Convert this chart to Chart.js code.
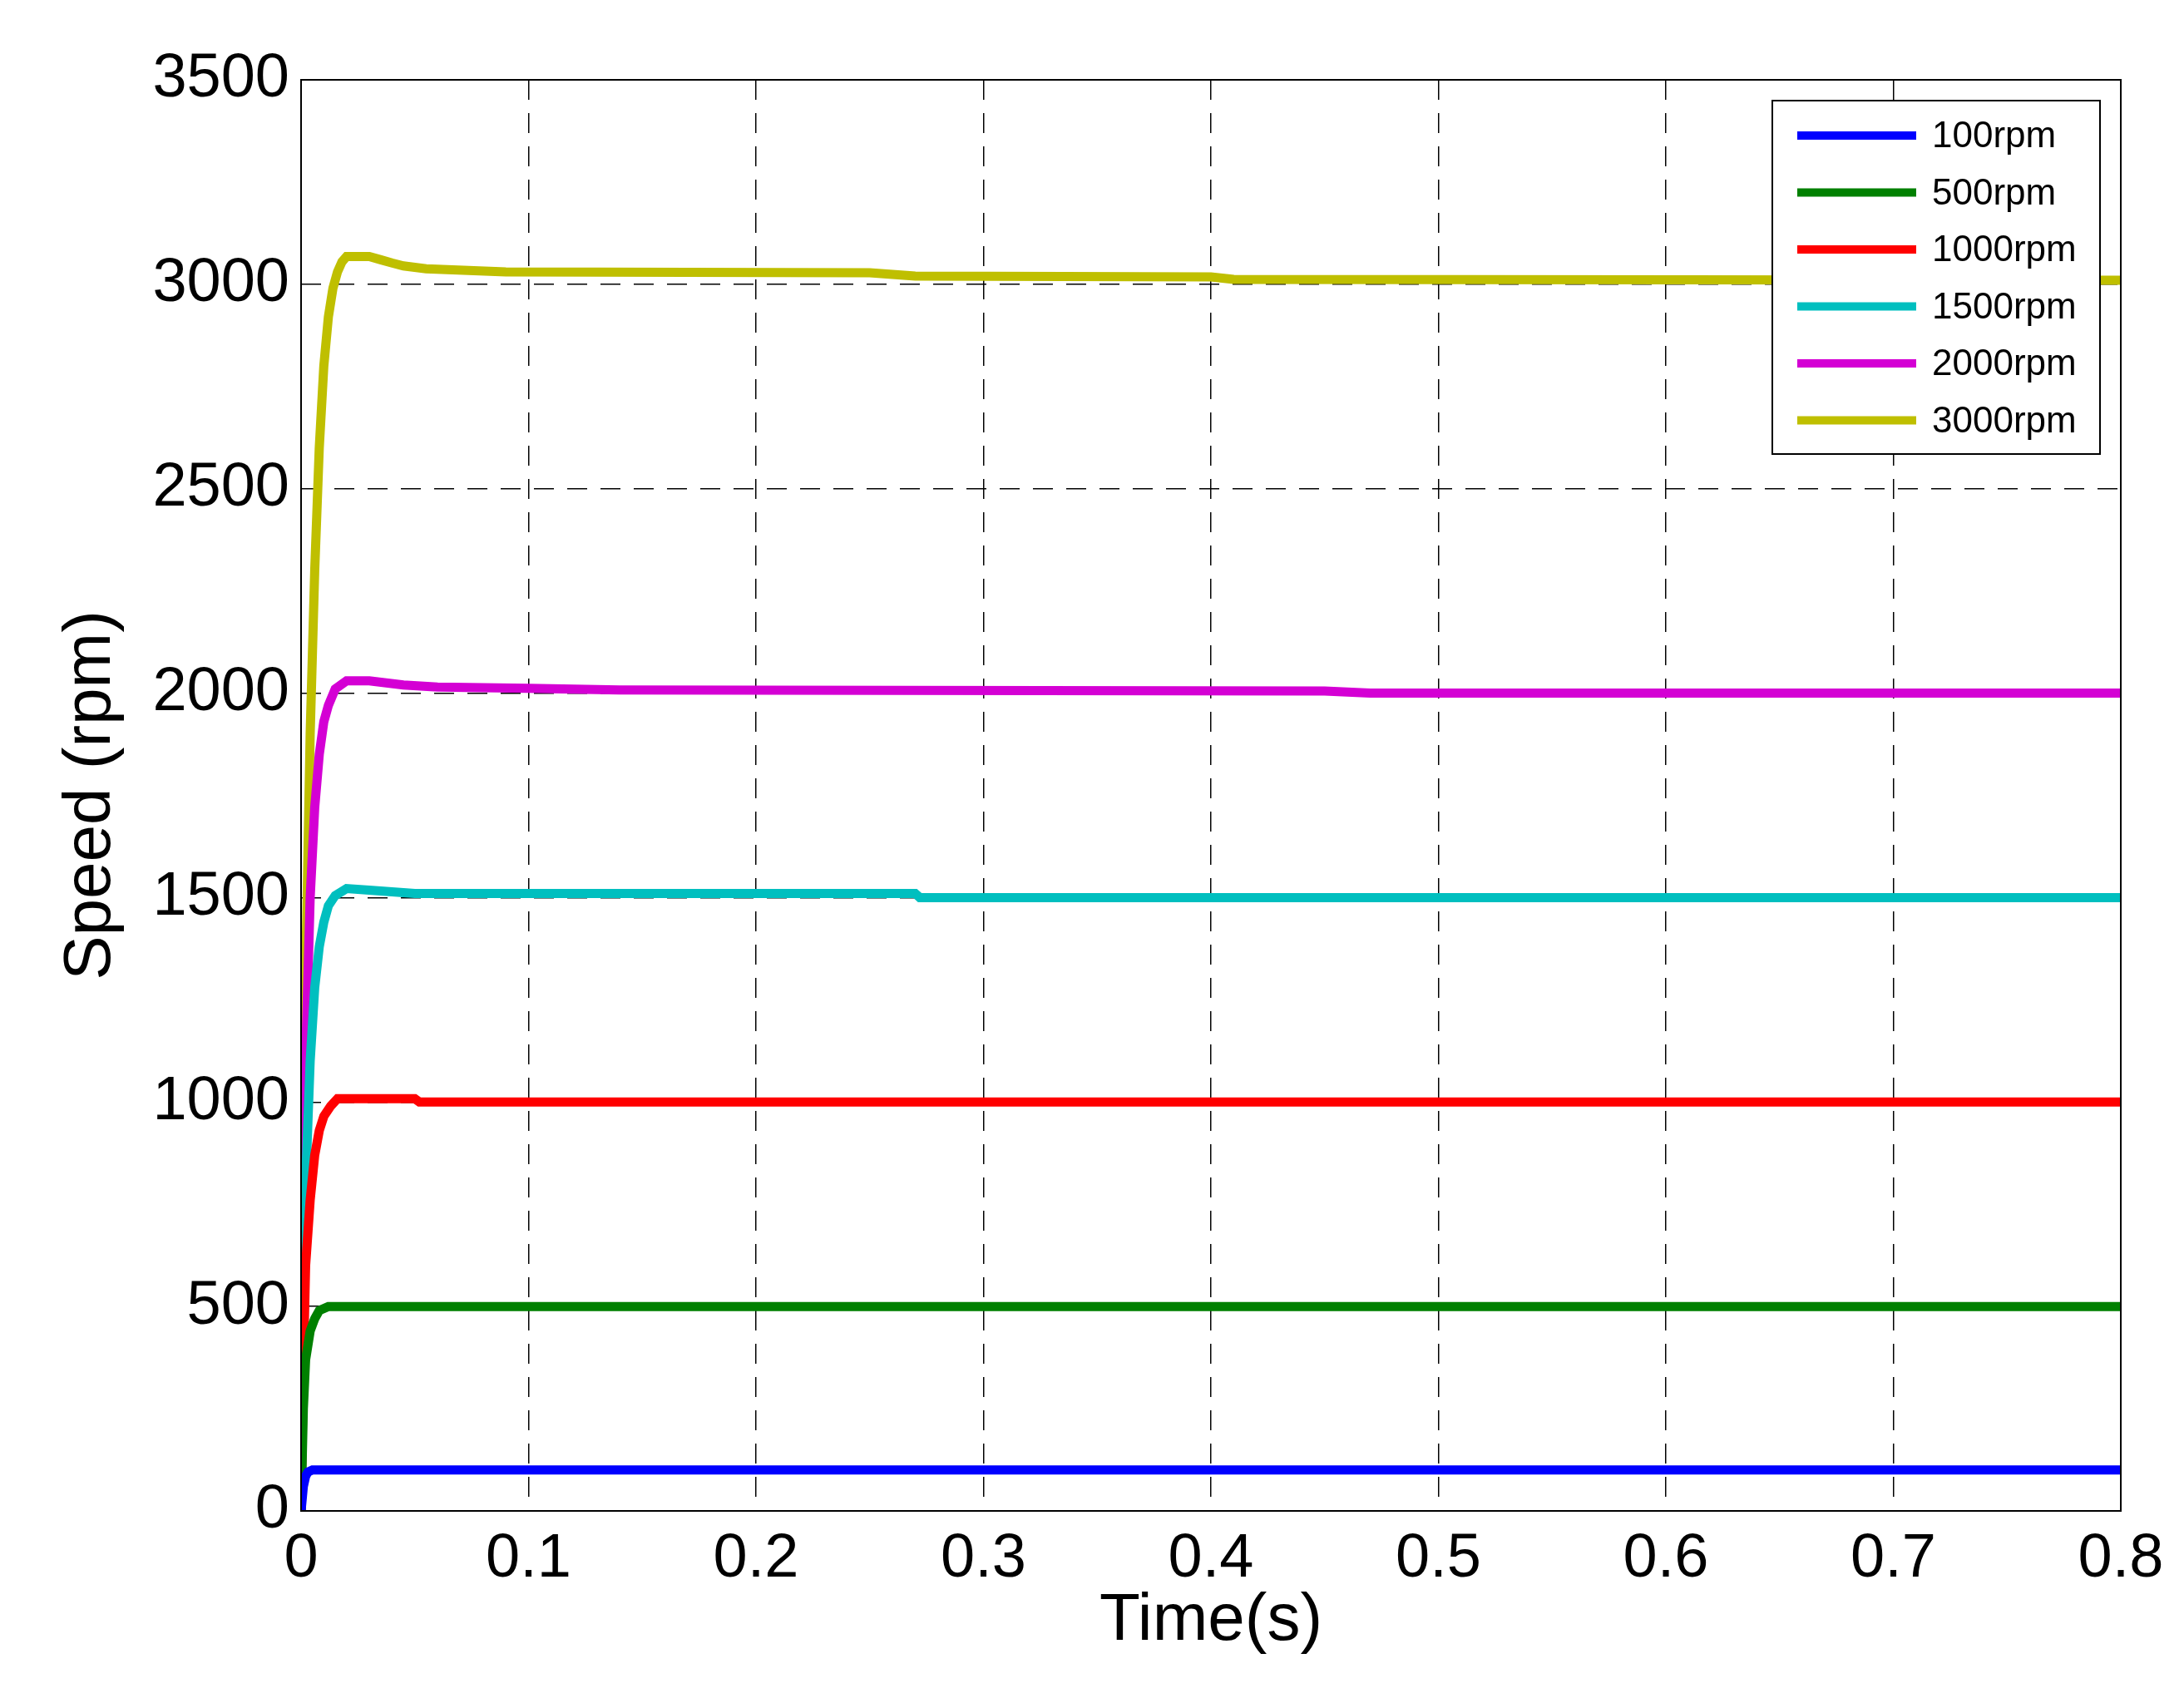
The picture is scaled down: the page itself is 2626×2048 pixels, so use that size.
<!DOCTYPE html>
<html><head><meta charset="utf-8">
<script src="https://cdn.jsdelivr.net/npm/chart.js@4/dist/chart.umd.min.js"></script>
<style>html,body{margin:0;padding:0;background:#fff}canvas{display:block}</style>
</head><body><canvas id="c" width="2626" height="2048"></canvas>
<script>
const labels = ["100rpm","500rpm","1000rpm","1500rpm","2000rpm","3000rpm"];
const colors = ["#0000ff","#008000","#ff0000","#00bfbf","#d400d4","#bfbf00"];
const xTicks = [0,0.1,0.2,0.3,0.4,0.5,0.6,0.7,0.8];
const t100 = [0,0.001,0.002,0.003,0.005,0.5,0.8];
const v100 = [0,60,85,95,100,100,100];
const t500 = [0,0.001,0.002,0.004,0.006,0.008,0.012,0.5,0.8];
const v500 = [0,250,370,440,470,490,500,500,500];
const t1000 = [0,0.001,0.002,0.004,0.006,0.008,0.010,0.013,0.016,0.05,0.052,0.5,0.8];
const v1000 = [0,350,600,760,870,930,965,990,1008,1008,1000,1000,1000];
const t1500 = [0,0.001,0.002,0.004,0.006,0.008,0.010,0.012,0.015,0.02,0.03,0.05,0.27,0.272,0.8];
const v1500 = [0,450,800,1100,1280,1380,1440,1480,1505,1522,1518,1510,1510,1500,1500];
const t2000 = [0,0.001,0.002,0.004,0.006,0.008,0.010,0.012,0.015,0.02,0.03,0.045,0.06,0.1,0.14,0.45,0.47,0.8];
const v2000 = [0,600,1100,1500,1720,1850,1930,1970,2010,2030,2030,2020,2015,2012,2008,2005,2000,2000];
const t3000 = [0,0.001,0.002,0.004,0.006,0.008,0.010,0.012,0.014,0.016,0.018,0.020,0.030,0.035,0.040,0.045,0.055,0.09,0.25,0.27,0.40,0.41,0.8];
const v3000 = [0,700,1300,1900,2300,2600,2800,2920,2990,3030,3055,3068,3068,3060,3052,3045,3038,3030,3028,3020,3018,3012,3010];
const series = [[t100,v100],[t500,v500],[t1000,v1000],[t1500,v1500],[t2000,v2000],[t3000,v3000]];
const F = "Arial, 'Liberation Sans', sans-serif";
const datasets = series.map((s,i)=>({label:labels[i],data:s[0].map((t,j)=>({x:t,y:s[1][j]})),borderColor:colors[i],borderWidth:11,pointRadius:0,tension:0,fill:false}));
const frame = {id:'frame',afterDraw(ch){const a=ch.chartArea,c=ch.ctx;c.save();c.strokeStyle='#000';c.lineWidth=2;c.strokeRect(a.left,a.top,a.right-a.left,a.bottom-a.top);
 const lx=2131,ly=121,lw=394,lh=425;c.fillStyle='#fff';c.fillRect(lx,ly,lw,lh);c.strokeRect(lx,ly,lw,lh);
 c.font="44px "+F;c.textBaseline='middle';
 ch.data.datasets.forEach((d,i)=>{const y=ly+42+i*68.5;c.strokeStyle=d.borderColor;c.lineWidth=10;c.beginPath();c.moveTo(lx+30,y);c.lineTo(lx+173,y);c.stroke();c.fillStyle='#000';c.fillText(d.label,lx+192,y+2);});
 c.restore();}};
new Chart(document.getElementById('c'),{type:'line',data:{datasets},
options:{responsive:false,animation:false,devicePixelRatio:1,
layout:{padding:{top:96,right:76,left:62,bottom:50}},
plugins:{legend:{display:false},tooltip:{enabled:false}},
scales:{
x:{type:'linear',min:0,max:0.8,afterBuildTicks:s=>{s.ticks=xTicks.map(v=>({value:v}));},
 afterFit:s=>{s.height=181;},
 ticks:{font:{size:74,family:F},color:'#000',padding:14,callback:v=>String(v),maxRotation:0},
 grid:{color:'#000',lineWidth:1.5,drawTicks:false},border:{dash:[24,16],display:false},
 title:{display:true,text:'Time(s)',font:{size:80,family:F},color:'#000',padding:{top:0,bottom:0}}},
y:{min:0,max:3500,afterFit:s=>{s.width=300;},
 ticks:{stepSize:500,font:{size:74,family:F},color:'#000',padding:14,callback:v=>String(v)},
 grid:{color:'#000',lineWidth:1.5,drawTicks:false},border:{dash:[24,16],display:false},
 title:{display:true,text:'Speed (rpm)',font:{size:80,family:F},color:'#000',padding:{top:0,bottom:0}}}
}},plugins:[frame]});
</script></body></html>
